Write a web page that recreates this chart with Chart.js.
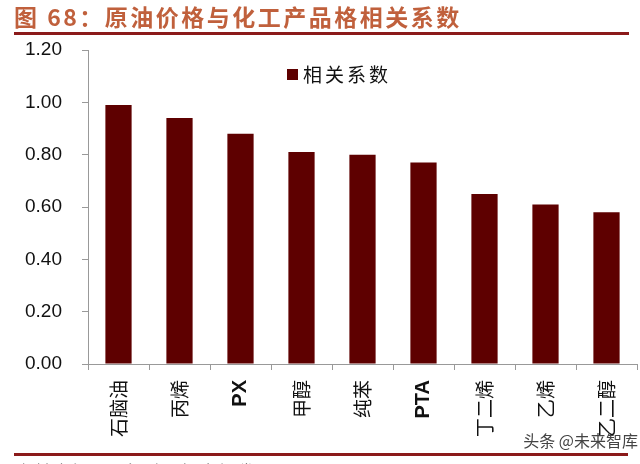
<!DOCTYPE html>
<html>
<head>
<meta charset="utf-8">
<script src="https://cdn.jsdelivr.net/npm/chart.js"></script>
<style>
    html, body { margin: 0; padding: 0; background: #fff; }
    #wrap { position: relative; width: 640px; height: 464px; }
</style>
</head>
<body>
<div id="wrap"><canvas id="corrChart" width="640" height="464"></canvas></div>
<script>
// --- chart data ---
const categories = ['石脑油', '丙烯', 'PX', '甲醇', '纯苯', 'PTA', '丁二烯', '乙烯', '乙二醇'];
const corrValues = [0.99, 0.94, 0.88, 0.81, 0.80, 0.77, 0.65, 0.61, 0.58];
const yTicks = [0, 0.2, 0.4, 0.6, 0.8, 1.0, 1.2];
const seriesName = '相关系数';
const titleText = '图 68：原油价格与化工产品格相关系数';
const sourceText = '资料来源：Wind，招商证券';
const watermark = '头条 @未来智库';

const barColor = '#5e0000';
const lineColor = '#8b1a1a';

// title, frame lines, legend and footer drawn on the canvas
const decorPlugin = {
    id: 'decor',
    afterDraw(chart) {
        const ctx = chart.ctx;
        ctx.save();
        // title
        ctx.fillStyle = '#c0603c';
        ctx.font = 'bold 23px "Noto Sans CJK SC", "Liberation Sans", sans-serif';
        ctx.letterSpacing = '2.5px';
        ctx.textBaseline = 'middle';
        ctx.textAlign = 'left';
        ctx.fillText(titleText, 14, 17);
        // top and bottom rules
        ctx.fillStyle = lineColor;
        ctx.fillRect(14, 32, 615, 3);
        ctx.fillRect(14, 453, 614, 3);
        // legend inside plot
        const ds = chart.data.datasets[0];
        ctx.fillStyle = ds.backgroundColor;
        ctx.fillRect(287, 69, 11, 11);
        ctx.fillStyle = '#111';
        ctx.font = '19px "Noto Sans CJK SC", sans-serif';
        ctx.letterSpacing = '3px';
        ctx.fillText(ds.label, 303, 75);
        // watermark
        ctx.letterSpacing = '0px';
        ctx.fillStyle = '#444';
        ctx.font = '16px "Noto Sans CJK SC", sans-serif';
        ctx.textAlign = 'right';
        ctx.fillText(watermark, 638, 441);
        // source (clipped at the bottom edge)
        ctx.fillStyle = '#777';
        ctx.textAlign = 'left';
        ctx.font = '15px "Noto Sans CJK SC", sans-serif';
        ctx.letterSpacing = '4px';
        ctx.fillText(sourceText, 16, 470);
        ctx.restore();
    }
};

new Chart(document.getElementById('corrChart'), {
    type: 'bar',
    data: {
        labels: categories,
        datasets: [{
            label: seriesName,
            data: corrValues,
            backgroundColor: barColor,
            borderWidth: 0,
            barPercentage: 0.43,
            categoryPercentage: 1.0
        }]
    },
    options: {
        responsive: false,
        animation: false,
        layout: { padding: { top: 50, right: 3, left: 0, bottom: 0 } },
        plugins: {
            legend: { display: false },
            tooltip: { enabled: false }
        },
        scales: {
            x: {
                grid: {
                    drawOnChartArea: false,
                    drawTicks: true,
                    tickLength: 6,
                    color: '#999',
                    offset: true
                },
                border: { color: '#999' },
                ticks: {
                    color: '#111',
                    minRotation: 90,
                    maxRotation: 90,
                    autoSkip: false,
                    padding: 10,
                    font: (c) => {
                        const lbl = categories[c.index] || '';
                        if (/^[A-Z]+$/.test(lbl)) {
                            return { family: '"Liberation Sans", Arial, sans-serif', size: 20, weight: 'bold' };
                        }
                        return { family: '"Noto Sans CJK SC", sans-serif', size: 19 };
                    }
                },
                afterFit(scale) { scale.height = 100; }
            },
            y: {
                min: 0,
                max: 1.2,
                afterBuildTicks(scale) {
                    scale.ticks = yTicks.map(v => ({ value: v }));
                },
                grid: {
                    drawOnChartArea: false,
                    drawTicks: true,
                    tickLength: 6,
                    color: '#999'
                },
                border: { color: '#999' },
                ticks: {
                    color: '#111',
                    padding: 20,
                    font: { family: '"Liberation Sans", Arial, sans-serif', size: 19 },
                    callback: (v) => Number(v).toFixed(2)
                },
                afterFit(scale) { scale.width = 88; }
            }
        }
    },
    plugins: [decorPlugin]
});
</script>
</body>
</html>
